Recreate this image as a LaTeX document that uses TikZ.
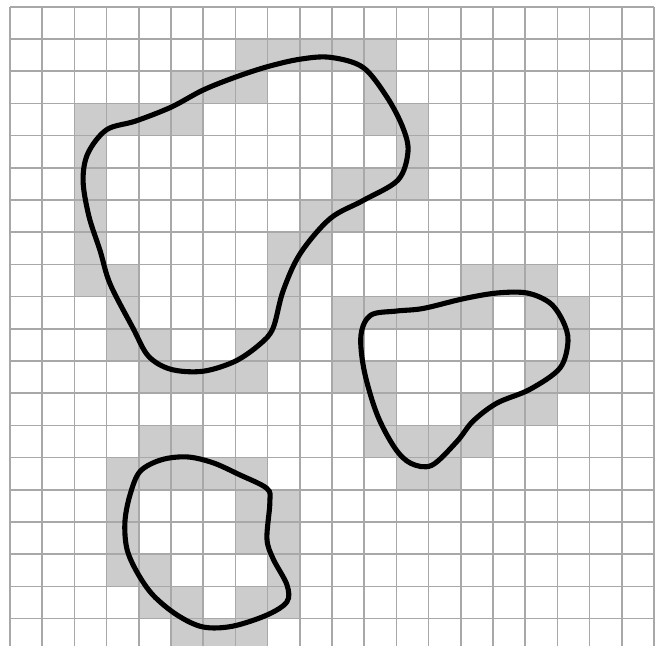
\documentclass[tikz,border=0pt]{standalone}

\begin{document}
\begin{tikzpicture}[
	cell/.style = {fill=black!20},
	gridline/.style = {draw=black!34, line width=1.4pt},
	blob/.style = {draw=black, line width=4.5pt}
]
	\useasboundingbox (-0.31,0.15) rectangle (20.28,20.21);
	\clip (-0.31,0.15) rectangle (20.28,20.21);
	% gray cells, row counted from the top
	\foreach \r/\cols in {
		1/{7,8,9,10,11},
		2/{5,6,7,11},
		3/{2,3,4,5,11,12},
		4/{2,12},
		5/{2,10,11,12},
		6/{2,9,10},
		7/{2,8,9},
		8/{2,3,8,14,15,16},
		9/{3,8,10,11,12,13,14,16,17},
		10/{3,4,7,8,10,17},
		11/{4,5,6,7,10,11,16,17},
		12/{11,14,15,16},
		13/{4,5,11,12,13,14},
		14/{3,4,5,6,7,12,13},
		15/{3,7,8},
		16/{3,7,8},
		17/{3,4,8},
		18/{4,5,7,8},
		19/{5,6,7}}
		\foreach \c in \cols
			\fill [cell] (\c,19-\r) rectangle ++(1,1);
	\draw [gridline] (0,0) grid (20,20);
	% the three regions
	\draw [blob] plot [smooth cycle, tension=0.55] coordinates {
		(3.00,16.18) (2.42,15.45) (2.27,14.60) (2.45,13.50) (2.80,12.42)
		(3.11,11.39) (3.82,10.02) (4.30,9.15) (5.00,8.74) (5.99,8.68)
		(6.99,8.99) (7.76,9.52) (8.17,10.02) (8.48,11.17) (9.01,12.33)
		(9.94,13.42) (10.96,13.98) (12.05,14.62) (12.36,15.50) (12.20,16.25)
		(11.71,17.19) (10.96,18.12) (9.94,18.43) (9.00,18.37) (8.00,18.14)
		(6.99,17.81) (5.99,17.41) (5.00,16.88) (3.90,16.45)};
	\draw [blob] plot [smooth cycle, tension=0.55] coordinates {
		(11.20,10.42) (12.00,10.55) (12.83,10.63) (14.07,10.93) (15.12,11.11)
		(16.06,11.11) (16.77,10.80) (17.17,10.24) (17.33,9.62) (17.08,8.78)
		(16.15,8.12) (15.12,7.69) (14.38,7.13) (13.88,6.50) (13.10,5.76)
		(12.45,5.82) (11.95,6.30) (11.40,7.34) (11.00,8.70) (10.90,9.80)};
	\draw [blob] plot [smooth cycle, tension=0.55] coordinates {
		(4.04,5.57) (4.70,5.93) (5.50,6.02) (6.30,5.84) (7.10,5.48)
		(7.98,5.04) (8.07,4.60) (7.98,3.48) (8.17,2.86) (8.60,2.05)
		(8.60,1.52) (7.98,1.11) (6.90,0.76) (5.99,0.74) (5.19,1.11)
		(4.44,1.73) (3.94,2.45) (3.63,3.17) (3.57,4.01) (3.73,4.85)};
\end{tikzpicture}
\end{document}
